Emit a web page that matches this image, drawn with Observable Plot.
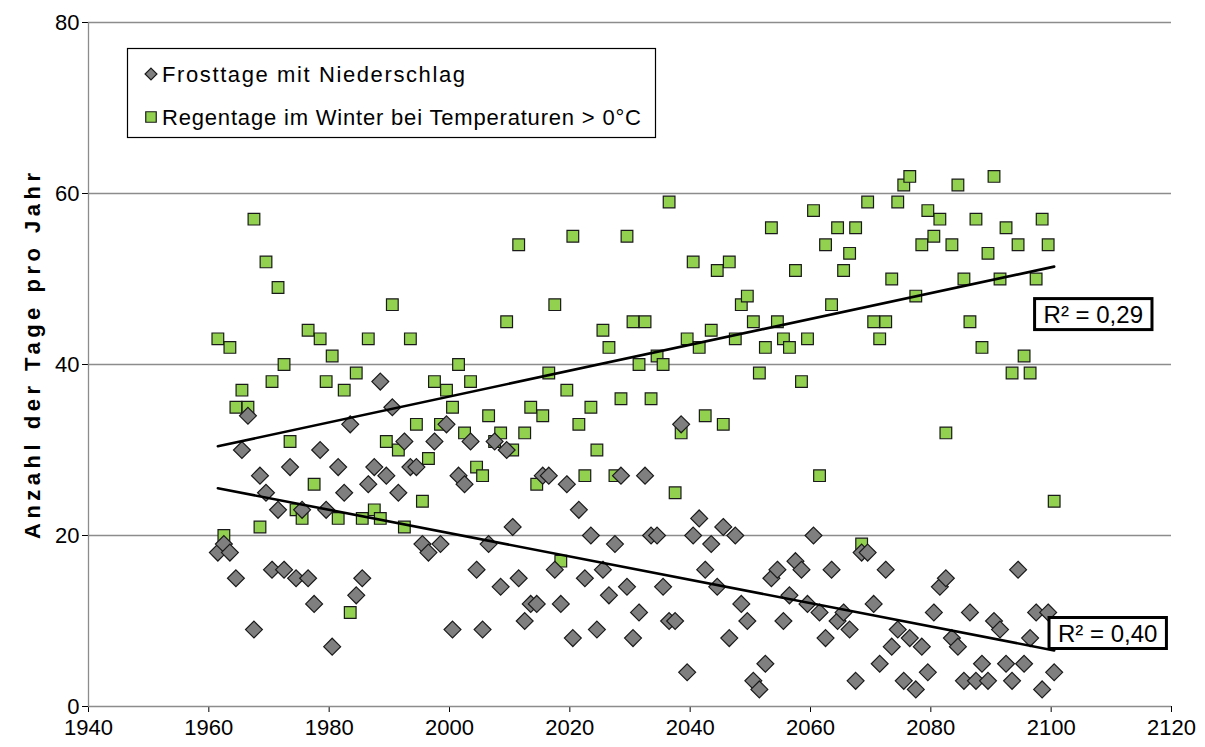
<!DOCTYPE html>
<html><head><meta charset="utf-8">
<script src="https://cdn.jsdelivr.net/npm/d3@7"></script>
<script src="https://cdn.jsdelivr.net/npm/@observablehq/plot@0.6"></script>
<style>body{margin:0;background:#fff} svg{display:block}</style>
</head><body><div id="chart"></div>
<script>
const years = d3.range(1961, 2101);
const frosttage = [
  18,19,18,15,30,34,9,27,25,16,
  23,16,28,15,23,15,12,30,23,7,
  28,25,33,13,15,26,28,38,27,35,
  25,31,28,28,19,18,31,19,33,9,
  27,26,31,16,9,19,31,14,30,21,
  15,10,12,12,27,27,16,12,26,8,
  23,15,20,9,16,13,19,27,14,8,
  11,27,20,20,14,10,10,33,4,20,
  22,16,19,14,21,8,20,12,10,3,
  2,5,15,16,10,13,17,16,12,20,
  11,8,16,10,11,9,3,18,18,12,
  5,16,7,9,3,8,2,7,4,11,
  14,15,8,7,3,11,3,5,3,10,
  9,5,3,16,5,8,11,2,11,4
];
const regentage = [
  43,20,42,35,37,35,57,21,52,38,
  49,40,31,23,22,44,26,43,38,41,
  22,37,11,39,22,43,23,22,31,47,
  30,21,43,33,24,29,38,33,37,35,
  40,32,38,28,27,34,31,32,45,30,
  54,32,35,26,34,39,47,17,37,55,
  33,27,35,30,44,42,27,36,55,45,
  40,45,36,41,40,59,25,32,43,52,
  42,34,44,51,33,52,43,47,48,45,
  39,42,56,45,43,42,51,38,43,58,
  27,54,47,56,51,53,56,19,59,45,
  43,45,50,59,61,62,48,54,58,55,
  57,32,54,61,50,45,57,42,53,62,
  50,56,39,54,41,39,50,57,54,24
];
const seriesNames = ["Frosttage mit Niederschlag", "Regentage im Winter bei Temperaturen > 0°C"];
const xTicks = [1940, 1960, 1980, 2000, 2020, 2040, 2060, 2080, 2100, 2120];
const yTicks = [0, 20, 40, 60, 80];
const gridLines = [20, 40, 60, 80];
const yLabel = "Anzahl der Tage pro Jahr";
const r2Labels = [
  {year: 2107, value: 45.8, text: "R² = 0,29"},
  {year: 2109.4, value: 8.5, text: "R² = 0,40"}
];

const grayFill = "#7f7f7f";
const greenFill = "#92d050";

// values are plotted at mid-year
const frostData = years.map((y, i) => ({year: y + 0.5, value: frosttage[i]}));
const regenData = years.map((y, i) => ({year: y + 0.5, value: regentage[i]}));

const plot = Plot.plot({
  width: 1205,
  height: 747,
  marginLeft: 88,
  marginRight: 34,
  marginTop: 22,
  marginBottom: 41,
  style: {fontFamily: "'Liberation Sans', Arial, sans-serif", fontSize: "22px", background: "white", color: "black", overflow: "visible"},
  x: {domain: [1940, 2120], ticks: xTicks, tickFormat: "d", tickSize: 6, tickPadding: 7, label: null},
  y: {domain: [0, 80], ticks: yTicks, tickSize: 6, tickPadding: 3, label: null},
  marks: [
    Plot.ruleY(gridLines, {stroke: "#8c8c8c", strokeWidth: 1.3}),
    Plot.ruleX([1940], {stroke: "#8c8c8c", strokeWidth: 1.3}),
    Plot.ruleY([0], {stroke: "#8c8c8c", strokeWidth: 1.3}),
    Plot.dot(regenData, {x: "year", y: "value", symbol: "square", r: 6.6, fill: greenFill, stroke: "#1a1a1a", strokeWidth: 1.2}),
    Plot.dot(frostData, {x: "year", y: "value", symbol: "diamond2", r: 7.6, fill: grayFill, stroke: "#1a1a1a", strokeWidth: 1.2}),
    Plot.linearRegressionY(regenData, {x: "year", y: "value", ci: 0, stroke: "black", strokeWidth: 2.6}),
    Plot.linearRegressionY(frostData, {x: "year", y: "value", ci: 0, stroke: "black", strokeWidth: 2.6}),
    Plot.text(r2Labels, {x: "year", y: "value", text: "text", fontSize: 24, fill: "black"})
  ]
});
document.getElementById("chart").append(plot);
const svg = d3.select(plot);

// boxes around R² labels
svg.selectAll("text").filter(function() { return this.textContent.startsWith("R²"); }).each(function() {
  const b = this.getBBox();
  const g = this.parentNode;
  const padX = 9, padY = 2;
  const p = this.transform && this.transform.baseVal.consolidate();
  let tx = 0, ty = 0;
  if (p) { tx = p.matrix.e; ty = p.matrix.f; }
  const rect = document.createElementNS("http://www.w3.org/2000/svg", "rect");
  rect.setAttribute("x", tx + b.x - padX);
  rect.setAttribute("y", ty + b.y - padY);
  rect.setAttribute("width", b.width + 2 * padX);
  rect.setAttribute("height", b.height + 2 * padY);
  rect.setAttribute("fill", "white");
  rect.setAttribute("stroke", "black");
  rect.setAttribute("stroke-width", 3);
  g.insertBefore(rect, this);
});

// y axis label
svg.append("text")
  .attr("transform", "translate(40,356) rotate(-90)")
  .attr("text-anchor", "middle")
  .attr("font-weight", "bold")
  .attr("font-size", 22)
  .attr("fill", "black")
  .attr("textLength", 366)
  .attr("lengthAdjust", "spacing")
  .text(yLabel);

// legend
const lg = svg.append("g").attr("text-anchor", "start");
lg.append("rect").attr("x", 127.5).attr("y", 48.5).attr("width", 528).attr("height", 89)
  .attr("fill", "white").attr("stroke", "black").attr("stroke-width", 1.2);
lg.append("path").attr("d", d3.symbol(d3.symbolDiamond2, 90)()).attr("transform", "translate(151,74)")
  .attr("fill", grayFill).attr("stroke", "#1a1a1a").attr("stroke-width", 1.2);
lg.append("text").attr("x", 162).attr("y", 74).attr("dy", "0.35em").attr("font-size", 22)
  .attr("text-anchor", "start").attr("textLength", 303).attr("lengthAdjust", "spacing").text(seriesNames[0]);
lg.append("path").attr("d", d3.symbol(d3.symbolSquare, 110)()).attr("transform", "translate(151,117)")
  .attr("fill", greenFill).attr("stroke", "#1a1a1a").attr("stroke-width", 1.2);
lg.append("text").attr("x", 162).attr("y", 117).attr("dy", "0.35em").attr("font-size", 22)
  .attr("text-anchor", "start").attr("textLength", 479).attr("lengthAdjust", "spacing").text(seriesNames[1]);
</script>
</body></html>
